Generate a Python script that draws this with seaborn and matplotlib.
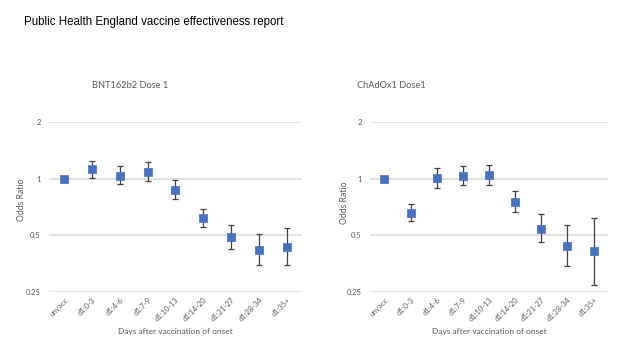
import matplotlib
matplotlib.use("Agg")
import matplotlib.pyplot as plt
import seaborn as sns
import pandas as pd
from matplotlib.ticker import FixedLocator, FixedFormatter, NullLocator

categories = ["unvacc", "d1:0-3", "d1:4-6", "d1:7-9", "d1:10-13",
              "d1:14-20", "d1:21-27", "d1:28-34", "d1:35+"]

# BNT162b2 dose 1: odds ratio with lower / upper confidence limits
bnt_or = [1.0, 1.13, 1.04, 1.09, 0.87, 0.62, 0.49, 0.42, 0.435]
bnt_lo = [1.0, 1.01, 0.94, 0.97, 0.78, 0.556, 0.424, 0.35, 0.346]
bnt_hi = [1.0, 1.25, 1.17, 1.23, 0.98, 0.69, 0.568, 0.51, 0.55]

# ChAdOx1 dose 1
chad_or = [1.0, 0.655, 1.012, 1.037, 1.041, 0.754, 0.542, 0.44, 0.412]
chad_lo = [1.0, 0.597, 0.897, 0.923, 0.93, 0.668, 0.46, 0.345, 0.273]
chad_hi = [1.0, 0.733, 1.147, 1.175, 1.18, 0.858, 0.647, 0.567, 0.622]

y_ticks = [0.25, 0.5, 1, 2]
y_tick_labels = ["0.25", "0.5", "1", "2"]

sns.set_theme(style="white")
plt.rcParams["font.family"] = ["Lato", "DejaVu Sans"]

blue = "#4472C4"
label_grey = "#595959"

fig = plt.figure(figsize=(6.34, 3.63), dpi=100)
ax1 = fig.add_axes([0.0773, 0.1956, 0.399, 0.468])
ax2 = fig.add_axes([0.5836, 0.1956, 0.3754, 0.468])


def draw_panel(ax, values, lo, hi):
    df = pd.DataFrame({"group": categories, "odds": values, "lo": lo, "hi": hi})
    x = list(range(len(categories)))
    ax.errorbar(x, df["odds"],
                yerr=[df["odds"] - df["lo"], df["hi"] - df["odds"]],
                fmt="none", ecolor="#404040", elinewidth=0.9,
                capsize=2, capthick=0.9, zorder=2)
    sns.scatterplot(data=df, x=x, y="odds", marker="s", s=36,
                    color=blue, edgecolor=blue, linewidth=0.5,
                    ax=ax, zorder=3, legend=False)
    ax.set_yscale("log", base=2)
    ax.set_ylim(0.25, 2)
    ax.set_xlim(-0.55, 8.55)
    ax.yaxis.set_major_locator(FixedLocator(y_ticks))
    ax.yaxis.set_major_formatter(FixedFormatter(y_tick_labels))
    ax.yaxis.set_minor_locator(NullLocator())
    ax.set_xticks(x)
    ax.set_xticklabels(categories, rotation=45, ha="right",
                       rotation_mode="anchor", fontsize=5.4, color=label_grey)
    ax.tick_params(axis="y", labelsize=5.5, labelcolor=label_grey, length=0, pad=6)
    ax.tick_params(axis="x", length=0, pad=3)
    ax.grid(axis="y", color="#d9d9d9", linewidth=1.1)
    ax.grid(axis="x", visible=False)
    for s in ax.spines.values():
        s.set_visible(False)
    ax.set_xlabel("Days after vaccination of onset", fontsize=6.0,
                  color=label_grey, labelpad=4)
    ax.set_ylabel("")


draw_panel(ax1, bnt_or, bnt_lo, bnt_hi)
draw_panel(ax2, chad_or, chad_lo, chad_hi)

fig.text(24 / 634, 1 - 22 / 363, "Public Health England vaccine effectiveness report",
         fontsize=8.3, family=["Liberation Sans", "DejaVu Sans"], va="center", ha="left",
         color="black")
fig.text(130 / 634, 1 - 86 / 363, "BNT162b2 Dose 1", fontsize=6.7,
         color=label_grey, ha="center", va="center")
fig.text(391 / 634, 1 - 86 / 363, "ChAdOx1 Dose1", fontsize=6.7,
         color=label_grey, ha="center", va="center")
fig.text(21 / 634, 1 - 200 / 363, "Odds Ratio", fontsize=6.2,
         color=label_grey, rotation=90, ha="center", va="center")
fig.text(345 / 634, 1 - 203 / 363, "Odds Ratio", fontsize=6.2,
         color=label_grey, rotation=90, ha="center", va="center")

fig.savefig("out.png", dpi=100)
